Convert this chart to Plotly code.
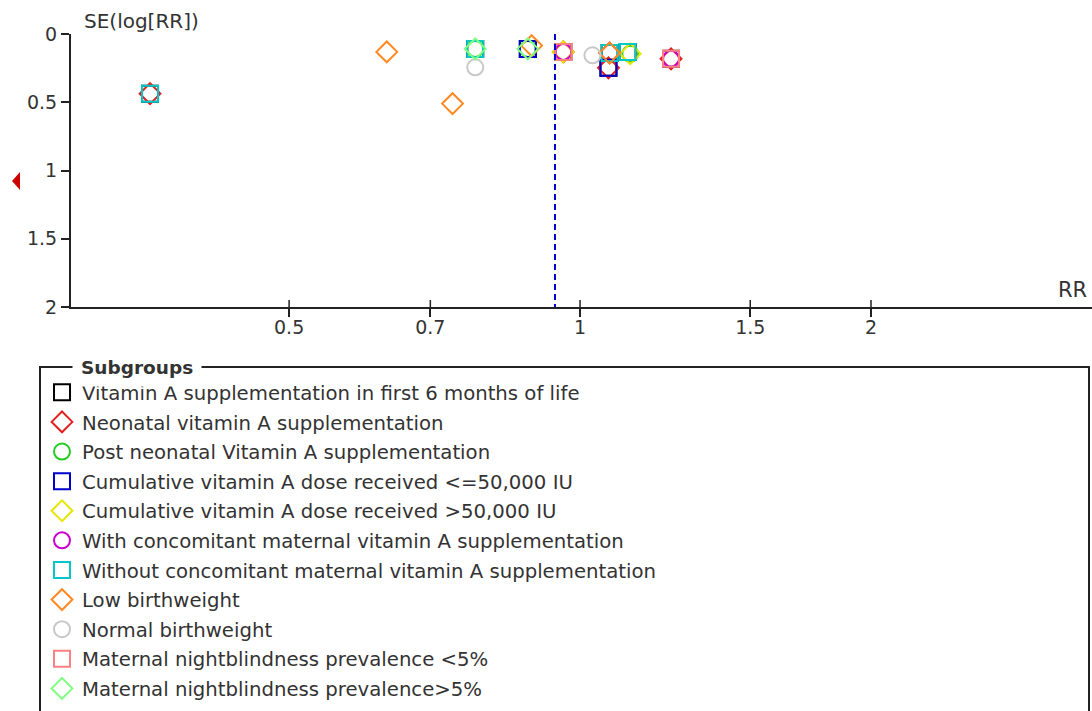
import plotly.graph_objects as go

# ---- funnel plot data: risk ratio (RR) and SE(log[RR]) per subgroup ----
subgroups = [
    "Vitamin A supplementation in first 6 months of life",
    "Neonatal vitamin A supplementation",
    "Post neonatal Vitamin A supplementation",
    "Cumulative vitamin A dose received <=50,000 IU",
    "Cumulative vitamin A dose received >50,000 IU",
    "With concomitant maternal vitamin A supplementation",
    "Without concomitant maternal vitamin A supplementation",
    "Low birthweight",
    "Normal birthweight",
    "Maternal nightblindness prevalence <5%",
    "Maternal nightblindness prevalence>5%",
]

rr_first6 = [0.359, 0.779, 0.883, 0.961, 1.073, 1.120, 1.242, 1.070]
se_first6 = [0.437, 0.109, 0.109, 0.131, 0.139, 0.131, 0.182, 0.248]

rr_neonatal = [0.359, 0.961, 1.073, 1.070, 1.242]
se_neonatal = [0.437, 0.131, 0.139, 0.248, 0.182]

rr_postneonatal = [0.779, 0.883, 1.127]
se_postneonatal = [0.109, 0.109, 0.145]

rr_dose_low = [0.883, 1.070]
se_dose_low = [0.109, 0.248]

rr_dose_high = [0.961, 1.127]
se_dose_high = [0.131, 0.145]

rr_with_maternal = [0.961, 1.242]
se_with_maternal = [0.131, 0.182]

rr_without_maternal = [0.359, 0.779, 1.073, 1.120]
se_without_maternal = [0.437, 0.109, 0.139, 0.131]

rr_low_bw = [0.631, 0.738, 0.891, 1.073]
se_low_bw = [0.131, 0.510, 0.085, 0.139]

rr_normal_bw = [0.779, 1.030]
se_normal_bw = [0.244, 0.156]

rr_nb_low = [0.961, 1.242]
se_nb_low = [0.131, 0.182]

rr_nb_high = [0.779, 0.883]
se_nb_high = [0.109, 0.109]

pooled_rr = 0.942

x_tick_vals = [0.5, 0.7, 1, 1.5, 2]
x_tick_text = ["0.5", "0.7", "1", "1.5", "2"]
y_tick_vals = [0, 0.5, 1, 1.5, 2]
y_tick_text = ["0", "0.5", "1", "1.5", "2"]

series = [
    (rr_first6, se_first6, "square-open", "#000000"),
    (rr_neonatal, se_neonatal, "diamond-open", "#e02020"),
    (rr_postneonatal, se_postneonatal, "circle-open", "#22cc22"),
    (rr_dose_low, se_dose_low, "square-open", "#0000cc"),
    (rr_dose_high, se_dose_high, "diamond-open", "#e6e600"),
    (rr_with_maternal, se_with_maternal, "circle-open", "#cc00cc"),
    (rr_without_maternal, se_without_maternal, "square-open", "#00c8c8"),
    (rr_low_bw, se_low_bw, "diamond-open", "#ff8820"),
    (rr_normal_bw, se_normal_bw, "circle-open", "#c8c8c8"),
    (rr_nb_low, se_nb_low, "square-open", "#ff8080"),
    (rr_nb_high, se_nb_high, "diamond-open", "#80ff80"),
]

FONT = "DejaVu Sans"
TXT = "#333333"
W, H = 1092, 711
ML, MT, MB = 71, 34, 404
PW = W - ML
PH = H - MT - MB

fig = go.Figure()
for i, (name, (xs, ys, sym, col)) in enumerate(zip(subgroups, series)):
    fig.add_trace(go.Scatter(
        x=xs, y=ys, mode="markers", name=name, legendgroup=f"g{i}",
        marker=dict(symbol=sym, size=16, color=col, line=dict(color=col, width=2)),
        hoverinfo="x+y+name",
    ))

shapes = []
# pooled estimate (dashed vertical line)
shapes.append(dict(type="line", xref="x", yref="y", x0=pooled_rr, x1=pooled_rr,
                   y0=0, y1=2, line=dict(color="#0000cc", width=2, dash="6px,4px")))
# upper half of the x tick marks (ticks cross the axis line)
for v in x_tick_vals:
    shapes.append(dict(type="line", xref="x", yref="y", ysizemode="pixel", yanchor=2,
                       x0=v, x1=v, y0=0, y1=7, line=dict(color="#222222", width=1.5)))
# subgroup box
shapes.append(dict(type="rect", xref="paper", yref="paper",
                   x0=(40 - ML) / PW, x1=(1089 - ML) / PW,
                   y0=(H - MB - 720) / PH, y1=(H - MB - 367) / PH,
                   line=dict(color="#222222", width=2), fillcolor="rgba(0,0,0,0)"))
# red marker on the left edge
def px2paper(px, py):
    return (px - ML) / PW, (H - MB - py) / PH
p1 = px2paper(12, 181)
p2 = px2paper(20, 172)
p3 = px2paper(20, 190)
shapes.append(dict(type="path", xref="paper", yref="paper",
                   path=f"M {p1[0]} {p1[1]} L {p2[0]} {p2[1]} L {p3[0]} {p3[1]} Z",
                   fillcolor="#cc0000", line=dict(color="#cc0000", width=0)))

annotations = [
    dict(text="SE(log[RR])", xref="paper", yref="paper",
         x=(82 - ML) / PW, y=(H - MB - 21) / PH, xanchor="left", yanchor="middle",
         showarrow=False, font=dict(family=FONT, size=20, color=TXT)),
    dict(text="RR", xref="paper", yref="paper",
         x=(1089 - ML) / PW, y=(H - MB - 290) / PH, xanchor="right", yanchor="middle",
         showarrow=False, font=dict(family=FONT, size=21, color=TXT)),
    dict(text="<b>Subgroups</b>", xref="paper", yref="paper",
         x=(72 - ML) / PW, y=(H - MB - 367) / PH, xanchor="left", yanchor="middle",
         showarrow=False, bgcolor="white", borderpad=8,
         font=dict(family=FONT, size=18.5, color=TXT)),
]

fig.update_layout(
    width=W, height=H,
    margin=dict(l=ML, r=0, t=MT, b=MB, pad=0, autoexpand=False),
    paper_bgcolor="white", plot_bgcolor="white",
    font=dict(family=FONT, size=19, color=TXT),
    showlegend=True,
    legend=dict(xref="container", yref="container",
                x=42 / W, y=1 - 373 / H, xanchor="left", yanchor="top",
                bgcolor="rgba(0,0,0,0)", borderwidth=0,
                font=dict(family=FONT, size=19.7, color=TXT),
                tracegroupgap=1.0, itemsizing="trace", traceorder="grouped"),
    shapes=shapes,
    annotations=annotations,
    xaxis=dict(type="log", range=[-0.5267, 0.5297], showgrid=False, zeroline=False,
               showline=True, linecolor="#222222", linewidth=2,
               ticks="outside", ticklen=8, tickwidth=1.5, tickcolor="#222222",
               ticklabelstandoff=-6,
               tickvals=x_tick_vals, ticktext=x_tick_text,
               tickfont=dict(family=FONT, size=19, color=TXT)),
    yaxis=dict(range=[2, 0], showgrid=False, zeroline=False,
               showline=True, linecolor="#222222", linewidth=2,
               ticks="outside", ticklen=8, tickwidth=1.5, tickcolor="#222222",
               tickvals=y_tick_vals, ticktext=y_tick_text,
               tickfont=dict(family=FONT, size=19, color=TXT)),
)

fig.write_html("out.html")
